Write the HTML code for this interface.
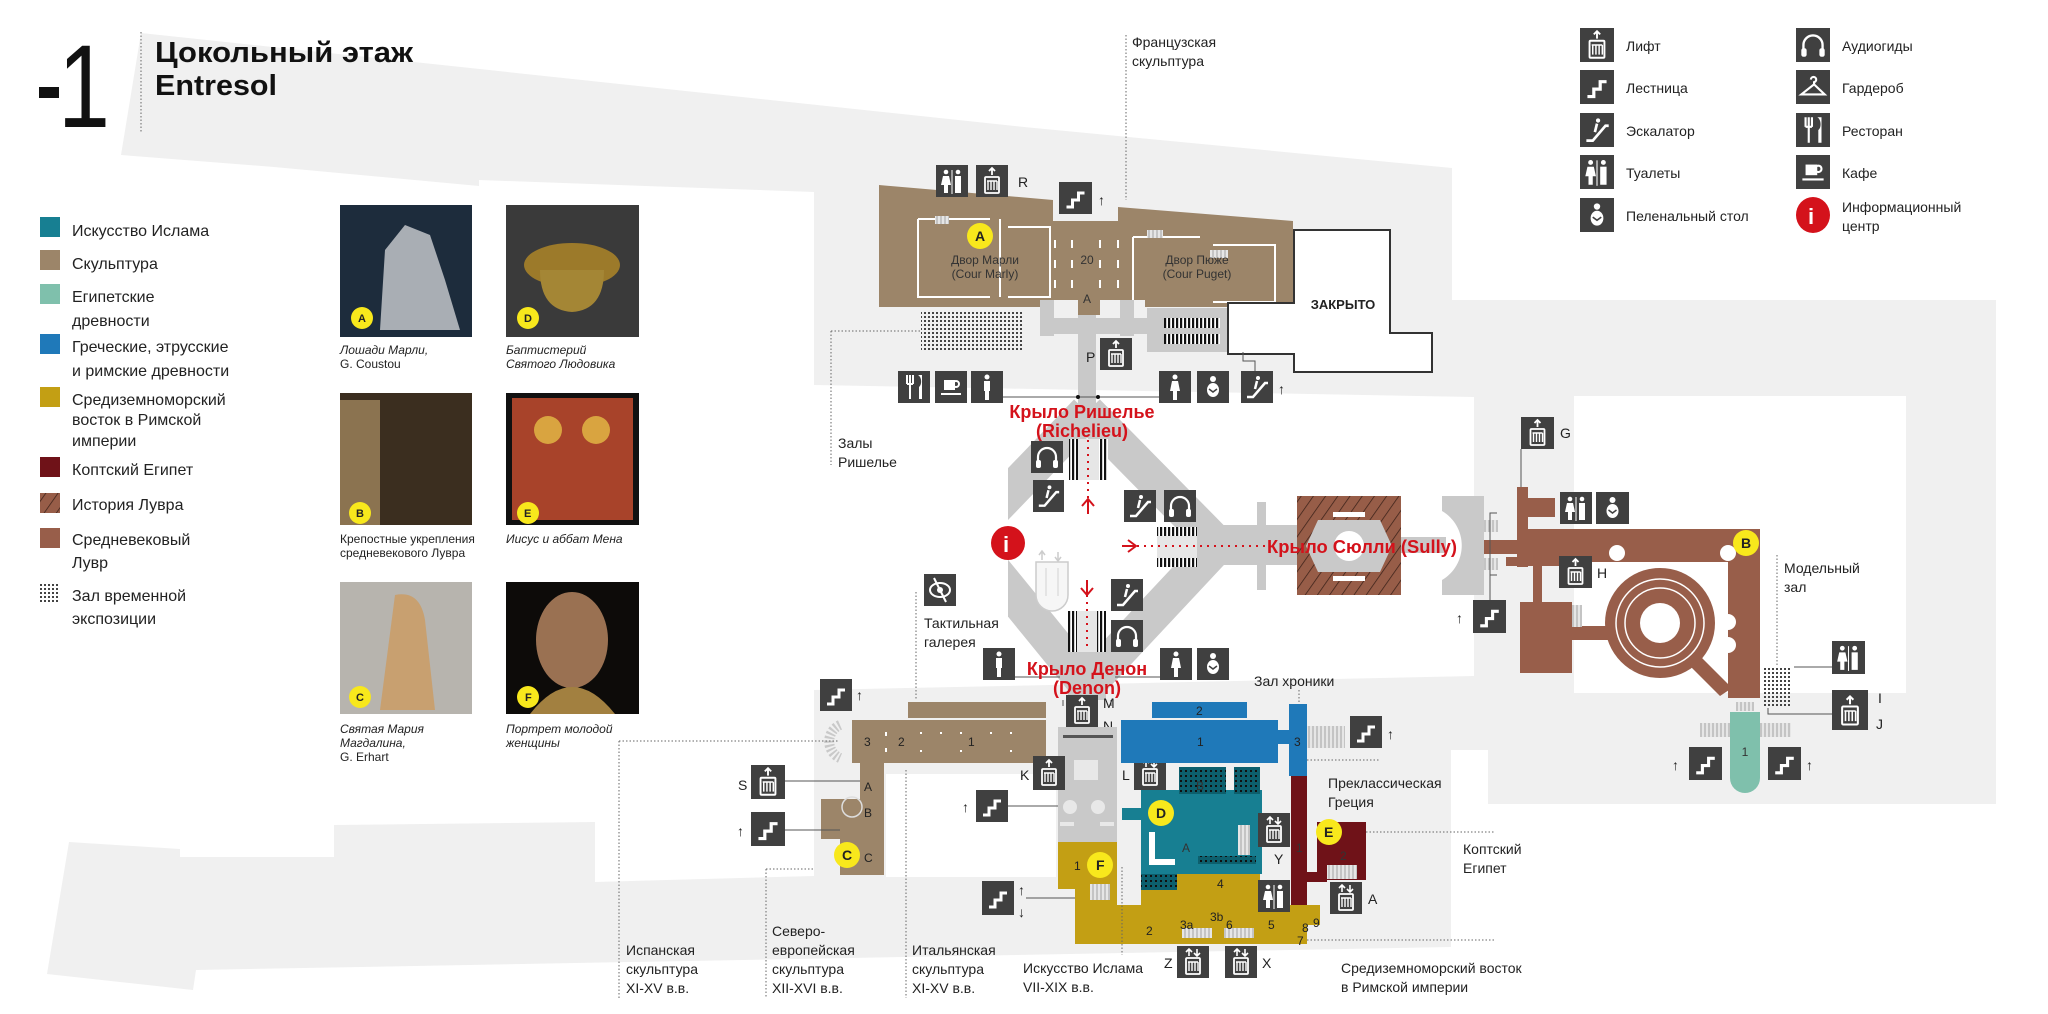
<!DOCTYPE html>
<html><head><meta charset="utf-8">
<style>
html,body{margin:0;padding:0;background:#fff;}
svg{display:block;}
text{font-family:"Liberation Sans","DejaVu Sans",sans-serif;fill:#222;}
.lg{font-size:16px;}
.lb{font-size:14px;}
.cap{font-size:12px;font-style:italic;fill:#444;}
.red{fill:#d4121b;font-weight:bold;font-size:18px;}
.sm{font-size:12px;fill:#333;}
.num{font-size:12px;fill:#333;}
.dot{stroke:#666;stroke-width:1;stroke-dasharray:1.5 2;fill:none;}
</style></head>
<body>
<svg width="2048" height="1014" viewBox="0 0 2048 1014" xmlns="http://www.w3.org/2000/svg">
<defs>
<pattern id="hatch" width="10" height="10" patternUnits="userSpaceOnUse" patternTransform="rotate(35)">
<rect width="10" height="10" fill="#975d48"/><line x1="0" y1="0" x2="0" y2="10" stroke="#3a2018" stroke-width="1.5"/></pattern>
<pattern id="dots" width="4" height="4" patternUnits="userSpaceOnUse"><rect width="4" height="4" fill="none"/><rect width="2" height="2" fill="#444"/></pattern>
<pattern id="tdots" width="5" height="5" patternUnits="userSpaceOnUse"><rect width="5" height="5" fill="#0d5f6d"/><rect width="2" height="2" fill="#111"/></pattern>
<pattern id="esc" width="4" height="10" patternUnits="userSpaceOnUse"><rect width="4" height="10" fill="#fff"/><rect width="2.2" height="10" fill="#111"/></pattern>
<pattern id="gstr" width="4" height="10" patternUnits="userSpaceOnUse"><rect width="4" height="10" fill="#e6e6e6"/><rect width="2" height="10" fill="#c4c4c4"/></pattern>
<clipPath id="dclip"><rect x="1008" y="380" width="300" height="330"/></clipPath>
<symbol id="stairs" viewBox="0 0 32 32"><polyline points="7,25 13,25 13,18 19,18 19,11 25,11" fill="none" stroke="#fff" stroke-width="3"/></symbol>
<symbol id="lift" viewBox="0 0 32 32"><path d="M16 3v7M13 6l3-3 3 3" stroke="#fff" stroke-width="1.8" fill="none"/><rect x="9" y="12" width="14" height="16" rx="1" fill="none" stroke="#fff" stroke-width="1.8"/><path d="M12 16v9M15 16v9M18 16v9M21 16v9M11 16h10" stroke="#fff" stroke-width="1.4"/></symbol>
<symbol id="lift2" viewBox="0 0 32 32"><path d="M12 3v7M9 6l3-3 3 3M20 10v-7M17 7l3 3 3-3" stroke="#fff" stroke-width="1.6" fill="none"/><rect x="9" y="12" width="14" height="16" rx="1" fill="none" stroke="#fff" stroke-width="1.8"/><path d="M12 16v9M15 16v9M18 16v9M21 16v9M11 16h10" stroke="#fff" stroke-width="1.4"/></symbol>
<symbol id="escal" viewBox="0 0 32 32"><path d="M6 26h6l12-14h3" stroke="#fff" stroke-width="2.5" fill="none"/><circle cx="17" cy="7" r="2" fill="#fff"/><path d="M16 10l-2 8" stroke="#fff" stroke-width="2.5"/></symbol>
<symbol id="wc" viewBox="0 0 32 32"><circle cx="10" cy="7" r="2.3" fill="#fff"/><circle cx="22" cy="7" r="2.3" fill="#fff"/><path d="M7 11h6l2 9h-3v8h-4v-8h-3z" fill="#fff"/><rect x="19" y="11" width="6" height="17" fill="#fff"/><rect x="15.5" y="5" width="1" height="24" fill="#fff"/></symbol>
<symbol id="baby" viewBox="0 0 32 32"><circle cx="16" cy="8" r="3" fill="#fff"/><ellipse cx="16" cy="19" rx="6" ry="7" fill="#fff"/><path d="M12 18l4 3 4-3" stroke="#404040" stroke-width="1.5" fill="none"/></symbol>
<symbol id="man" viewBox="0 0 32 32"><circle cx="16" cy="6" r="2.5" fill="#fff"/><rect x="13" y="10" width="6" height="10" fill="#fff"/><rect x="14" y="18" width="4" height="11" fill="#fff"/></symbol>
<symbol id="woman" viewBox="0 0 32 32"><circle cx="16" cy="6" r="2.5" fill="#fff"/><path d="M13 10h6l2 10h-3v9h-4v-9h-3z" fill="#fff"/></symbol>
<symbol id="audio" viewBox="0 0 32 32"><path d="M7 22v-6a9 9 0 0 1 18 0v6" stroke="#fff" stroke-width="2.2" fill="none"/><rect x="5" y="19" width="5" height="8" rx="2" fill="#fff"/><rect x="22" y="19" width="5" height="8" rx="2" fill="#fff"/></symbol>
<symbol id="hanger" viewBox="0 0 32 32"><path d="M14 9a2.5 2.5 0 1 1 3 2.5v2L5 23h22L17 13.5" stroke="#fff" stroke-width="2" fill="none"/></symbol>
<symbol id="rest" viewBox="0 0 32 32"><path d="M9 4v9M12 4v9M15 4v9M9 13h6M12 13v15" stroke="#fff" stroke-width="2" fill="none"/><path d="M20 4c4 2 4 10 1 12v12h3V4z" fill="#fff"/></symbol>
<symbol id="cafe" viewBox="0 0 32 32"><rect x="9" y="9" width="11" height="10" fill="#fff"/><circle cx="21" cy="13" r="3" fill="none" stroke="#fff" stroke-width="2"/><rect x="6" y="22" width="20" height="2" fill="#fff"/></symbol>
<symbol id="eye" viewBox="0 0 32 32"><ellipse cx="16" cy="16" rx="10" ry="7" fill="none" stroke="#fff" stroke-width="2"/><circle cx="16" cy="16" r="3" fill="#fff"/><path d="M10 4l12 24" stroke="#fff" stroke-width="2"/></symbol>
</defs>

<!-- background grey areas -->
<path fill="#f0f0f0" fill-rule="evenodd" d="M141 33 L1024 127 L1452 168 L1452 300 L1996 300 L1996 804 L1488 804 L1488 750 L1451 750 L1451 947 L196 970 L193 990 L47 974 L69 842 L180 849 L180 857 L334 857 L334 825 L595 822 L595 882 L814 876 L814 192 L479 180 L479 186 L274 167 L121 155 Z
M814 385 L1474 397 L1474 676 L814 690 Z M1574 396 L1906 396 L1906 693 L1574 693 Z M886 774 L1056 774 L1056 877 L886 877 Z"/>

<!-- header -->
<rect x="39" y="87" width="20" height="11" fill="#111"/>
<text x="58" y="127" style="font-size:118px;font-weight:normal;fill:#111" textLength="52" lengthAdjust="spacingAndGlyphs">1</text>
<line x1="141" y1="32" x2="141" y2="133" class="dot"/>
<text x="155" y="62" style="font-size:29px;font-weight:bold;fill:#111" textLength="258" lengthAdjust="spacingAndGlyphs">Цокольный этаж</text>
<text x="155" y="95" style="font-size:29px;font-weight:bold;fill:#111" textLength="122" lengthAdjust="spacingAndGlyphs">Entresol</text>

<!-- left legend -->
<rect x="40" y="217" width="20" height="20" fill="#177f92"/>
<rect x="40" y="250" width="20" height="20" fill="#9c8569"/>
<rect x="40" y="284" width="20" height="20" fill="#7fc0ac"/>
<rect x="40" y="334" width="20" height="20" fill="#1f79b9"/>
<rect x="40" y="387" width="20" height="20" fill="#c39f14"/>
<rect x="40" y="457" width="20" height="20" fill="#6f1218"/>
<rect x="40" y="493" width="20" height="20" fill="url(#hatch)"/>
<rect x="40" y="528" width="20" height="20" fill="#985e4a"/>
<rect x="40" y="584" width="20" height="20" fill="url(#dots)"/>
<g class="lg">
<text x="72" y="236">Искусство Ислама</text>
<text x="72" y="269">Скульптура</text>
<text x="72" y="302">Египетские</text>
<text x="72" y="326">древности</text>
<text x="72" y="352">Греческие, этрусские</text>
<text x="72" y="376">и римские древности</text>
<text x="72" y="405">Средиземноморский</text>
<text x="72" y="425">восток в Римской</text>
<text x="72" y="446">империи</text>
<text x="72" y="475">Коптский Египет</text>
<text x="72" y="510">История Лувра</text>
<text x="72" y="545">Средневековый</text>
<text x="72" y="568">Лувр</text>
<text x="72" y="601">Зал временной</text>
<text x="72" y="624">экспозиции</text>
</g>

<!-- photos -->
<rect x="340" y="205" width="132" height="132" fill="#1d2c3c"/>
<path d="M380 330 L385 250 L405 225 L430 235 L445 280 L460 330 Z" fill="#a9aeb4"/>
<rect x="506" y="205" width="133" height="132" fill="#3a3a3a"/>
<ellipse cx="572" cy="265" rx="48" ry="22" fill="#9c7a2a"/><path d="M540 270 Q540 310 572 312 Q604 310 604 270 Z" fill="#a48635"/>
<rect x="340" y="393" width="132" height="132" fill="#3b2e1f"/><rect x="340" y="400" width="40" height="125" fill="#8b7350"/>
<rect x="506" y="393" width="133" height="132" fill="#111"/><rect x="512" y="398" width="121" height="122" fill="#a8432a"/><circle cx="548" cy="430" r="14" fill="#d9a440"/><circle cx="596" cy="430" r="14" fill="#d9a440"/>
<rect x="340" y="582" width="132" height="132" fill="#b7b4ae"/><path d="M395 595 Q420 590 425 620 L435 710 L380 710 Z" fill="#c8a070"/>
<rect x="506" y="582" width="133" height="132" fill="#0d0b09"/><ellipse cx="572" cy="640" rx="36" ry="48" fill="#9a7152"/><path d="M530 714 Q572 660 615 714 Z" fill="#a28040"/>
<g font-weight="bold" font-size="12">
<circle cx="362" cy="318" r="11" fill="#f8e81c"/><text x="358" y="322" font-size="11">A</text>
<circle cx="528" cy="318" r="11" fill="#f8e81c"/><text x="524" y="322" font-size="11">D</text>
<circle cx="360" cy="513" r="11" fill="#f8e81c"/><text x="356" y="517" font-size="11">B</text>
<circle cx="528" cy="513" r="11" fill="#f8e81c"/><text x="524" y="517" font-size="11">E</text>
<circle cx="360" cy="697" r="11" fill="#f8e81c"/><text x="356" y="701" font-size="11">C</text>
<circle cx="528" cy="697" r="11" fill="#f8e81c"/><text x="525" y="701" font-size="11">F</text>
</g>
<g class="cap">
<text x="340" y="354">Лошади Марли,</text><text x="340" y="368" font-style="normal">G. Coustou</text>
<text x="506" y="354">Баптистерий</text><text x="506" y="368">Святого Людовика</text>
<text x="340" y="543" font-style="normal">Крепостные укрепления</text><text x="340" y="557" font-style="normal">средневекового Лувра</text>
<text x="506" y="543">Иисус и аббат Мена</text>
<text x="340" y="733">Святая Мария</text><text x="340" y="747">Магдалина,</text><text x="340" y="761" font-style="normal">G. Erhart</text>
<text x="506" y="733">Портрет молодой</text><text x="506" y="747">женщины</text>
</g>

<!-- right legend -->
<g class="lb" font-size="15">
<rect x="1580" y="28" width="34" height="34" fill="#404040"/><use href="#lift" x="1580" y="28" width="34" height="34"/><text x="1626" y="51">Лифт</text>
<rect x="1580" y="70" width="34" height="34" fill="#404040"/><use href="#stairs" x="1580" y="70" width="34" height="34"/><text x="1626" y="93">Лестница</text>
<rect x="1580" y="113" width="34" height="34" fill="#404040"/><use href="#escal" x="1580" y="113" width="34" height="34"/><text x="1626" y="136">Эскалатор</text>
<rect x="1580" y="155" width="34" height="34" fill="#404040"/><use href="#wc" x="1580" y="155" width="34" height="34"/><text x="1626" y="178">Туалеты</text>
<rect x="1580" y="198" width="34" height="34" fill="#404040"/><use href="#baby" x="1580" y="198" width="34" height="34"/><text x="1626" y="221">Пеленальный стол</text>
<rect x="1796" y="28" width="34" height="34" fill="#404040"/><use href="#audio" x="1796" y="28" width="34" height="34"/><text x="1842" y="51">Аудиогиды</text>
<rect x="1796" y="70" width="34" height="34" fill="#404040"/><use href="#hanger" x="1796" y="70" width="34" height="34"/><text x="1842" y="93">Гардероб</text>
<rect x="1796" y="113" width="34" height="34" fill="#404040"/><use href="#rest" x="1796" y="113" width="34" height="34"/><text x="1842" y="136">Ресторан</text>
<rect x="1796" y="155" width="34" height="34" fill="#404040"/><use href="#cafe" x="1796" y="155" width="34" height="34"/><text x="1842" y="178">Кафе</text>
<ellipse cx="1813" cy="215" rx="17" ry="18" fill="#d4121b"/><text x="1808" y="224" style="fill:#fff;font-weight:bold;font-size:22px">i</text>
<text x="1842" y="212">Информационный</text><text x="1842" y="231">центр</text>
</g>

<!-- Richelieu top -->
<line x1="1126" y1="35" x2="1126" y2="200" class="dot"/>
<text x="1132" y="47" class="lb">Французская</text><text x="1132" y="66" class="lb">скульптура</text>
<path d="M879 185 L1053 200 L1053 221 L1118 221 L1118 207 L1293 221 L1293 307 L1145 307 L1145 300 L1100 300 L1100 315 L1078 315 L1078 300 L1045 300 L1042 307 L879 307 Z" fill="#9c8569"/>
<g fill="none" stroke="#fff" stroke-width="2">
<path d="M918 219 H990 M918 219 V297 H990 M1000 219 V297"/>
<path d="M1008 227 H1050 V297 H1008"/>
<path d="M1133 237 H1200 M1133 300 V237 M1213 245 H1275 V302 H1213"/>
<path d="M1055 240v8M1055 260v8M1055 280v8M1118 240v8M1118 260v8M1118 280v8M1072 240v8M1072 260v8M1072 280v8M1100 240v8M1100 260v8M1100 280v8"/>
</g>
<rect x="935" y="216" width="14" height="8" fill="url(#gstr)"/><rect x="1147" y="230" width="16" height="8" fill="url(#gstr)"/><rect x="1210" y="250" width="18" height="8" fill="url(#gstr)"/>
<text x="985" y="264" class="sm" text-anchor="middle">Двор Марли</text><text x="985" y="278" class="sm" text-anchor="middle">(Cour Marly)</text>
<text x="1197" y="264" class="sm" text-anchor="middle">Двор Пюже</text><text x="1197" y="278" class="sm" text-anchor="middle">(Cour Puget)</text>
<text x="1087" y="264" class="num" text-anchor="middle">20</text>
<text x="1087" y="303" class="num" text-anchor="middle">A</text>
<circle cx="980" cy="236" r="13" fill="#f8e81c"/><text x="975" y="241" font-weight="bold" font-size="14">A</text>
<rect x="921" y="310" width="103" height="42" fill="url(#dots)"/>
<!-- corridors -->
<g fill="#c9c9c9">
<rect x="1040" y="300" width="14" height="36"/><rect x="1120" y="300" width="14" height="36"/>
<rect x="1040" y="318" width="110" height="16"/>
<rect x="1078" y="315" width="18" height="110"/>
<rect x="1147" y="308" width="82" height="44"/>
</g>
<rect x="1164" y="318" width="56" height="10" fill="url(#esc)"/><rect x="1164" y="334" width="56" height="10" fill="url(#esc)"/>
<path d="M1228 303 H1294 V230 H1390 V333 H1432 V372 H1294 V354 H1228 Z" fill="#fff" stroke="#333" stroke-width="2"/>
<text x="1343" y="309" text-anchor="middle" style="font-size:13px;font-weight:bold">ЗАКРЫТО</text>
<line x1="831" y1="331" x2="921" y2="331" class="dot"/><line x1="831" y1="331" x2="831" y2="465" class="dot"/>
<text x="838" y="448" class="lb">Залы</text><text x="838" y="467" class="lb">Ришелье</text>
<!-- icons Richelieu -->
<g>
<rect x="936" y="165" width="32" height="32" fill="#404040"/><use href="#wc" x="936" y="165" width="32" height="32"/>
<rect x="976" y="165" width="32" height="32" fill="#404040"/><use href="#lift" x="976" y="165" width="32" height="32"/><text x="1018" y="187" class="lb">R</text>
<rect x="1059" y="182" width="33" height="32" fill="#404040"/><use href="#stairs" x="1059" y="182" width="33" height="32"/><text x="1098" y="205" class="lb" font-weight="bold">↑</text>
<rect x="1100" y="338" width="32" height="32" fill="#404040"/><use href="#lift" x="1100" y="338" width="32" height="32"/><text x="1086" y="362" class="lb">P</text>
<rect x="898" y="371" width="32" height="32" fill="#404040"/><use href="#rest" x="898" y="371" width="32" height="32"/>
<rect x="935" y="371" width="32" height="32" fill="#404040"/><use href="#cafe" x="935" y="371" width="32" height="32"/>
<rect x="971" y="371" width="32" height="32" fill="#404040"/><use href="#man" x="971" y="371" width="32" height="32"/>
<rect x="1159" y="371" width="32" height="32" fill="#404040"/><use href="#woman" x="1159" y="371" width="32" height="32"/>
<rect x="1197" y="371" width="32" height="32" fill="#404040"/><use href="#baby" x="1197" y="371" width="32" height="32"/>
<rect x="1241" y="371" width="32" height="32" fill="#404040"/><use href="#escal" x="1241" y="371" width="32" height="32"/><text x="1278" y="394" class="lb" font-weight="bold">↑</text>
</g>
<path d="M1003 397 H1159" stroke="#555" stroke-width="1"/><circle cx="1078" cy="397" r="2" fill="#111"/><circle cx="1098" cy="397" r="2" fill="#111"/>
<path d="M1243 352 V361 H1255 V371" stroke="#555" fill="none"/>

<!-- central diamond -->
<g stroke="#c9c9c9" stroke-width="36" fill="none" clip-path="url(#dclip)">
<path d="M1087 412 L985 518"/><path d="M1087 412 L1218 545"/>
<path d="M985 560 L1087 685"/><path d="M1218 545 L1087 685"/>
</g>
<rect x="1068" y="640" width="38" height="60" fill="#c9c9c9"/>
<rect x="1200" y="525" width="100" height="40" fill="#c9c9c9"/>
<rect x="1257" y="502" width="9" height="88" fill="#c9c9c9"/>
<rect x="1069" y="439" width="39" height="41" fill="#e6e6e6"/><rect x="1069" y="439" width="9" height="41" fill="url(#esc)"/><rect x="1099" y="439" width="9" height="41" fill="url(#esc)"/>
<rect x="1157" y="527" width="40" height="40" fill="#e6e6e6"/><rect x="1157" y="527" width="40" height="9" fill="url(#esc)"/><rect x="1157" y="558" width="40" height="9" fill="url(#esc)"/>
<rect x="1068" y="611" width="38" height="41" fill="#e6e6e6"/><rect x="1068" y="611" width="9" height="41" fill="url(#esc)"/><rect x="1097" y="611" width="9" height="41" fill="url(#esc)"/>
<line x1="1088" y1="440" x2="1088" y2="500" stroke="#d4121b" stroke-width="2" stroke-dasharray="2 5"/>
<path d="M1082 506 L1088 499 L1094 506 M1088 499 V514" stroke="#d4121b" stroke-width="2" fill="none"/>
<line x1="1130" y1="546" x2="1268" y2="546" stroke="#d4121b" stroke-width="2" stroke-dasharray="2 5"/>
<path d="M1128 540 L1136 546 L1128 552 M1136 546 H1122" stroke="#d4121b" stroke-width="2" fill="none"/>
<line x1="1087" y1="595" x2="1087" y2="650" stroke="#d4121b" stroke-width="2" stroke-dasharray="2 5"/>
<path d="M1081 588 L1087 595 L1093 588 M1087 595 V580" stroke="#d4121b" stroke-width="2" fill="none"/>
<path d="M1036 562 V595 A16 16 0 0 0 1068 595 V562 Z" fill="#f6f6f6" stroke="#ccc" stroke-width="1.5"/>
<path d="M1046 568 V596 M1058 568 V596" stroke="#ddd" stroke-width="1.5"/>
<path d="M1042 560 V552 M1039 555 L1042 551 L1045 555 M1058 552 V560 M1055 557 L1058 561 L1061 557" stroke="#ccc" stroke-width="1.5" fill="none"/>
<circle cx="1008" cy="543" r="17" fill="#d4121b"/><text x="1003" y="552" style="fill:#fff;font-weight:bold;font-size:22px">i</text>
<rect x="1031" y="441" width="32" height="32" fill="#404040"/><use href="#audio" x="1031" y="441" width="32" height="32"/>
<rect x="1033" y="480" width="31" height="32" fill="#404040"/><use href="#escal" x="1033" y="480" width="31" height="32"/>
<rect x="1124" y="490" width="32" height="32" fill="#404040"/><use href="#escal" x="1124" y="490" width="32" height="32"/>
<rect x="1164" y="490" width="32" height="32" fill="#404040"/><use href="#audio" x="1164" y="490" width="32" height="32"/>
<text x="1082" y="418" text-anchor="middle" class="red">Крыло Ришелье</text>
<text x="1082" y="437" text-anchor="middle" class="red">(Richelieu)</text>

<!-- Sully -->
<rect x="1297" y="496" width="104" height="99" fill="url(#hatch)"/>
<path d="M1318 520 H1380 L1392 546 L1380 572 H1318 L1306 546 Z" fill="#c9c9c9"/>
<circle cx="1349" cy="546" r="15" fill="#fff"/>
<rect x="1333" y="512" width="32" height="5" fill="#fff"/><rect x="1333" y="576" width="32" height="5" fill="#fff"/>
<path d="M1442 496 H1484 V595 H1442 V580 A40 40 0 0 0 1442 511 Z" fill="#c9c9c9"/>
<rect x="1401" y="537" width="45" height="16" fill="#c9c9c9"/>
<rect x="1484" y="520" width="14" height="12" fill="url(#gstr)"/><rect x="1484" y="558" width="14" height="12" fill="url(#gstr)"/>
<text x="1267" y="553" class="red" textLength="190" lengthAdjust="spacingAndGlyphs">Крыло Сюлли (Sully)</text>

<!-- Medieval -->
<g fill="#985e4a">
<rect x="1517" y="487" width="11" height="80"/>
<rect x="1527" y="498" width="28" height="19"/>
<rect x="1484" y="540" width="40" height="14"/>
<rect x="1517" y="529" width="243" height="33"/>
<rect x="1728" y="529" width="32" height="169"/>
<rect x="1506" y="557" width="55" height="9"/>
<rect x="1533" y="560" width="9" height="44"/>
<rect x="1520" y="602" width="52" height="71"/>
<rect x="1561" y="626" width="55" height="14"/>
<circle cx="1660" cy="623" r="55"/>
<path d="M1672 648 L1684 640 L1732 688 L1720 696 Z"/>
</g>
<circle cx="1660" cy="623" r="44" fill="none" stroke="#fff" stroke-width="1.5"/>
<circle cx="1660" cy="623" r="35" fill="none" stroke="#fff" stroke-width="1.5"/>
<circle cx="1660" cy="623" r="20" fill="#fff"/>
<circle cx="1617" cy="553" r="8" fill="#fff"/><circle cx="1728" cy="553" r="8" fill="#fff"/><circle cx="1728" cy="622" r="8" fill="#fff"/><circle cx="1728" cy="645" r="8" fill="#fff"/>
<rect x="1572" y="605" width="10" height="22" fill="url(#gstr)"/>
<circle cx="1746" cy="543" r="13" fill="#f8e81c"/><text x="1741" y="548" font-weight="bold" font-size="14">B</text>
<line x1="1777" y1="555" x2="1777" y2="665" class="dot"/>
<text x="1784" y="573" class="lb">Модельный</text><text x="1784" y="592" class="lb">зал</text>
<rect x="1762" y="666" width="30" height="42" fill="url(#dots)"/>
<path d="M1730 712 H1760 V778 A15 15 0 0 1 1730 778 Z" fill="#7fc0ac"/>
<rect x="1736" y="702" width="18" height="9" fill="url(#gstr)"/>
<rect x="1700" y="723" width="30" height="14" fill="url(#gstr)"/><rect x="1760" y="723" width="31" height="14" fill="url(#gstr)"/>
<text x="1745" y="756" class="num" text-anchor="middle">1</text>
<g>
<rect x="1521" y="417" width="33" height="32" fill="#404040"/><use href="#lift" x="1521" y="417" width="33" height="32"/><text x="1560" y="438" class="lb">G</text>
<line x1="1521" y1="449" x2="1521" y2="487" stroke="#555"/>
<rect x="1560" y="492" width="32" height="32" fill="#404040"/><use href="#wc" x="1560" y="492" width="32" height="32"/>
<rect x="1596" y="492" width="33" height="32" fill="#404040"/><use href="#baby" x="1596" y="492" width="33" height="32"/>
<rect x="1559" y="556" width="33" height="32" fill="#404040"/><use href="#lift" x="1559" y="556" width="33" height="32"/><text x="1597" y="578" class="lb">H</text>
<rect x="1473" y="600" width="33" height="33" fill="#404040"/><use href="#stairs" x="1473" y="600" width="33" height="33"/><text x="1456" y="623" class="lb" font-weight="bold">↑</text>
<path d="M1490 600 V513 H1497 M1490 575 H1497" stroke="#555" fill="none"/>
<rect x="1832" y="641" width="33" height="33" fill="#404040"/><use href="#wc" x="1832" y="641" width="33" height="33"/>
<line x1="1794" y1="667" x2="1832" y2="667" stroke="#555"/>
<rect x="1832" y="690" width="36" height="40" fill="#404040"/><use href="#lift" x="1832" y="693" width="36" height="36"/><text x="1878" y="703" class="lb">I</text><text x="1876" y="729" class="lb">J</text>
<path d="M1768 708 V714 H1832" stroke="#555" fill="none"/>
<rect x="1689" y="747" width="33" height="33" fill="#404040"/><use href="#stairs" x="1689" y="747" width="33" height="33"/><text x="1672" y="770" class="lb" font-weight="bold">↑</text>
<rect x="1768" y="747" width="33" height="33" fill="#404040"/><use href="#stairs" x="1768" y="747" width="33" height="33"/><text x="1806" y="770" class="lb" font-weight="bold">↑</text>
</g>

<!-- Denon area -->
<rect x="1111" y="579" width="32" height="32" fill="#404040"/><use href="#escal" x="1111" y="579" width="32" height="32"/>
<rect x="1111" y="620" width="32" height="32" fill="#404040"/><use href="#audio" x="1111" y="620" width="32" height="32"/>
<rect x="924" y="574" width="32" height="32" fill="#404040"/><use href="#eye" x="924" y="574" width="32" height="32"/>
<text x="924" y="628" class="lb">Тактильная</text><text x="924" y="647" class="lb">галерея</text>
<line x1="916" y1="592" x2="916" y2="700" class="dot"/>
<rect x="983" y="648" width="32" height="32" fill="#404040"/><use href="#man" x="983" y="648" width="32" height="32"/>
<rect x="1160" y="648" width="32" height="32" fill="#404040"/><use href="#woman" x="1160" y="648" width="32" height="32"/>
<rect x="1197" y="648" width="32" height="32" fill="#404040"/><use href="#baby" x="1197" y="648" width="32" height="32"/>
<path d="M1015 677 H1060 M1115 677 H1160" stroke="#555"/>
<text x="1087" y="675" text-anchor="middle" class="red">Крыло Денон</text>
<text x="1087" y="694" text-anchor="middle" class="red">(Denon)</text>
<line x1="1063" y1="700" x2="1063" y2="706" stroke="#555"/><line x1="1111" y1="700" x2="1111" y2="706" stroke="#555"/>
<rect x="1066" y="695" width="32" height="32" fill="#404040"/><use href="#lift" x="1066" y="695" width="32" height="32"/>
<text x="1103" y="708" class="lb">M</text><text x="1103" y="731" class="lb">N</text>

<!-- sculpture south -->
<g fill="#9c8569">
<rect x="908" y="702" width="138" height="16"/>
<rect x="852" y="720" width="194" height="43"/>
<rect x="860" y="763" width="24" height="38"/>
<rect x="821" y="799" width="63" height="40"/>
<rect x="840" y="839" width="44" height="36"/>
</g>
<path d="M840 725 A18 18 0 0 0 840 758" stroke="#c9c9c9" stroke-width="10" fill="none" stroke-dasharray="2 2"/>
<g fill="#fff"><rect x="885" y="732" width="2" height="4"/><rect x="885" y="748" width="2" height="4"/><rect x="920" y="732" width="2" height="2"/><rect x="940" y="732" width="2" height="2"/><rect x="960" y="732" width="2" height="2"/><rect x="990" y="732" width="2" height="2"/><rect x="1010" y="732" width="2" height="2"/><rect x="920" y="750" width="2" height="2"/><rect x="960" y="750" width="2" height="2"/><rect x="1010" y="750" width="2" height="2"/></g>
<g class="num"><text x="864" y="746">3</text><text x="898" y="746">2</text><text x="968" y="746">1</text><text x="864" y="791">A</text><text x="864" y="817">B</text><text x="864" y="862">C</text></g>
<circle cx="852" cy="807" r="10" fill="none" stroke="#ddd" stroke-width="1.5"/>
<circle cx="847" cy="855" r="13" fill="#f8e81c"/><text x="842" y="860" font-weight="bold" font-size="14">C</text>
<rect x="751" y="765" width="34" height="34" fill="#404040"/><use href="#lift" x="751" y="765" width="34" height="34"/><text x="738" y="790" class="lb">S</text>
<line x1="785" y1="781" x2="860" y2="781" stroke="#555"/>
<rect x="751" y="812" width="34" height="34" fill="#404040"/><use href="#stairs" x="751" y="812" width="34" height="34"/><text x="737" y="836" class="lb" font-weight="bold">↑</text>
<line x1="785" y1="830" x2="840" y2="830" stroke="#555"/>
<rect x="820" y="679" width="32" height="32" fill="#404040"/><use href="#stairs" x="820" y="679" width="32" height="32"/><text x="856" y="700" class="lb" font-weight="bold">↑</text>

<!-- center corridor south -->
<rect x="1058" y="727" width="59" height="115" fill="#c9c9c9"/>
<rect x="1063" y="735" width="50" height="3" fill="#555"/>
<g fill="#e8e8e8"><rect x="1074" y="760" width="24" height="20"/><circle cx="1070" cy="807" r="7"/><circle cx="1098" cy="807" r="7"/><rect x="1060" y="822" width="14" height="4"/><rect x="1100" y="822" width="14" height="4"/></g>
<rect x="1033" y="756" width="32" height="34" fill="#404040"/><use href="#lift" x="1033" y="756" width="32" height="34"/><text x="1020" y="780" class="lb">K</text>
<rect x="1134" y="756" width="32" height="34" fill="#404040"/><use href="#lift2" x="1134" y="756" width="32" height="34"/><text x="1122" y="780" class="lb">L</text>
<rect x="976" y="790" width="32" height="32" fill="#404040"/><use href="#stairs" x="976" y="790" width="32" height="32"/><text x="962" y="812" class="lb" font-weight="bold">↑</text>
<line x1="1008" y1="806" x2="1058" y2="806" stroke="#555"/>

<!-- Greek -->
<g fill="#1f79b9">
<rect x="1152" y="702" width="95" height="16"/>
<rect x="1121" y="720" width="157" height="43"/>
<rect x="1289" y="704" width="18" height="72"/>
<rect x="1278" y="730" width="12" height="14"/>
</g>
<g class="num"><text x="1196" y="715">2</text><text x="1197" y="746">1</text><text x="1294" y="746">3</text></g>
<rect x="1307" y="726" width="38" height="22" fill="url(#gstr)"/>
<rect x="1350" y="716" width="32" height="32" fill="#404040"/><use href="#stairs" x="1350" y="716" width="32" height="32"/><text x="1387" y="739" class="lb" font-weight="bold">↑</text>
<text x="1254" y="686" class="lb">Зал хроники</text>
<line x1="1299" y1="690" x2="1299" y2="704" class="dot"/>
<line x1="1307" y1="760" x2="1380" y2="760" class="dot"/>
<text x="1328" y="788" class="lb">Преклассическая</text><text x="1328" y="807" class="lb">Греция</text>

<!-- Islam teal -->
<path d="M1141 790 H1262 V874 H1141 Z" fill="#177f92"/>
<rect x="1122" y="808" width="20" height="12" fill="#177f92"/>
<rect x="1179" y="767" width="47" height="27" fill="url(#tdots)"/>
<rect x="1234" y="767" width="26" height="27" fill="url(#tdots)"/>
<path d="M1152 832 V862 H1175" stroke="#fff" stroke-width="6" fill="none"/>
<rect x="1198" y="856" width="58" height="8" fill="url(#tdots)"/>
<rect x="1238" y="825" width="12" height="30" fill="url(#gstr)"/>
<text x="1182" y="852" class="num">A</text><text x="1196" y="790" class="num" fill="#fff">B</text>
<circle cx="1161" cy="813" r="13" fill="#f8e81c"/><text x="1156" y="818" font-weight="bold" font-size="14">D</text>
<rect x="1258" y="813" width="32" height="34" fill="#404040"/><use href="#lift2" x="1258" y="813" width="32" height="34"/><text x="1274" y="864" class="lb">Y</text>

<!-- Coptic -->
<g fill="#6f1218">
<rect x="1291" y="776" width="16" height="131"/>
<rect x="1317" y="822" width="49" height="58"/>
<rect x="1307" y="872" width="20" height="10"/>
</g>
<circle cx="1329" cy="832" r="13" fill="#f8e81c"/><text x="1324" y="837" font-weight="bold" font-size="14">E</text>
<rect x="1327" y="865" width="30" height="14" fill="url(#gstr)"/>
<text x="1296" y="852" class="num" fill="#222">1</text><text x="1340" y="860" class="num">2</text>
<line x1="1366" y1="832" x2="1495" y2="832" class="dot"/>
<text x="1463" y="854" class="lb">Коптский</text><text x="1463" y="873" class="lb">Египет</text>
<rect x="1330" y="882" width="32" height="32" fill="#404040"/><use href="#lift2" x="1330" y="882" width="32" height="32"/><text x="1368" y="904" class="lb">A</text>

<!-- Mediterranean -->
<g fill="#c39f14">
<rect x="1058" y="842" width="59" height="47"/>
<rect x="1075" y="887" width="42" height="20"/>
<rect x="1075" y="905" width="232" height="39"/>
<rect x="1177" y="874" width="83" height="17"/>
<rect x="1141" y="890" width="119" height="22"/>
<rect x="1290" y="905" width="30" height="20"/>
</g>
<rect x="1141" y="874" width="36" height="16" fill="url(#tdots)"/>
<rect x="1090" y="884" width="20" height="16" fill="url(#gstr)"/>
<rect x="1182" y="928" width="30" height="10" fill="url(#gstr)"/><rect x="1224" y="928" width="30" height="10" fill="url(#gstr)"/>
<g class="num"><text x="1074" y="870">1</text><text x="1217" y="888">4</text><text x="1210" y="921">3b</text><text x="1146" y="935">2</text><text x="1180" y="929">3a</text><text x="1226" y="929">6</text><text x="1268" y="929">5</text><text x="1302" y="932">8</text><text x="1313" y="927">9</text><text x="1297" y="945">7</text></g>
<circle cx="1100" cy="865" r="13" fill="#f8e81c"/><text x="1096" y="870" font-weight="bold" font-size="14">F</text>
<rect x="1258" y="880" width="32" height="32" fill="#404040"/><use href="#wc" x="1258" y="880" width="32" height="32"/>
<rect x="982" y="881" width="32" height="34" fill="#404040"/><use href="#stairs" x="982" y="881" width="32" height="34"/><text x="1018" y="895" class="lb" font-weight="bold">↑</text><text x="1018" y="917" class="lb" font-weight="bold">↓</text>
<line x1="1026" y1="898" x2="1075" y2="898" stroke="#555"/>
<rect x="1177" y="946" width="32" height="32" fill="#404040"/><use href="#lift2" x="1177" y="946" width="32" height="32"/><text x="1164" y="968" class="lb">Z</text>
<rect x="1225" y="946" width="32" height="32" fill="#404040"/><use href="#lift2" x="1225" y="946" width="32" height="32"/><text x="1262" y="968" class="lb">X</text>
<line x1="1307" y1="940" x2="1495" y2="940" class="dot"/>
<text x="1341" y="973" class="lb">Средиземноморский восток</text><text x="1341" y="992" class="lb">в Римской империи</text>
<line x1="1122" y1="867" x2="1122" y2="955" class="dot"/>
<text x="1023" y="973" class="lb">Искусство Ислама</text><text x="1023" y="992" class="lb">VII-XIX в.в.</text>

<!-- bottom labels -->
<line x1="906" y1="770" x2="906" y2="998" class="dot"/>
<text x="912" y="955" class="lb">Итальянская</text><text x="912" y="974" class="lb">скульптура</text><text x="912" y="993" class="lb">XI-XV в.в.</text>
<line x1="766" y1="869" x2="815" y2="869" class="dot"/><line x1="766" y1="869" x2="766" y2="998" class="dot"/>
<text x="772" y="936" class="lb">Северо-</text><text x="772" y="955" class="lb">европейская</text><text x="772" y="974" class="lb">скульптура</text><text x="772" y="993" class="lb">XII-XVI в.в.</text>
<line x1="619" y1="741" x2="838" y2="741" class="dot"/><line x1="619" y1="741" x2="619" y2="998" class="dot"/>
<text x="626" y="955" class="lb">Испанская</text><text x="626" y="974" class="lb">скульптура</text><text x="626" y="993" class="lb">XI-XV в.в.</text>
</svg>
</body></html>
